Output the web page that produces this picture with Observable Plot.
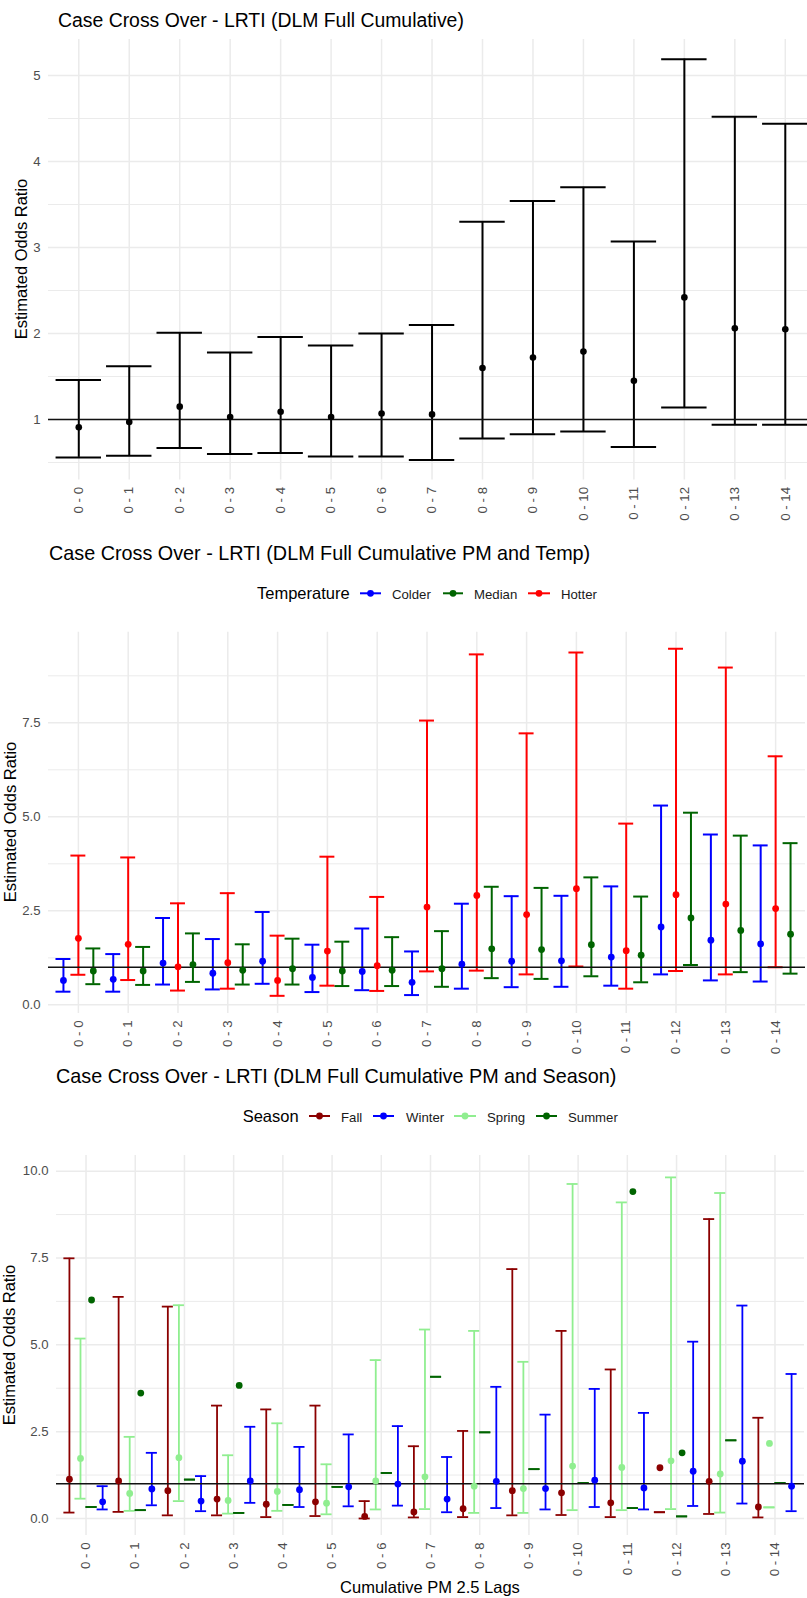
<!DOCTYPE html>
<html><head><meta charset="utf-8">
<script src="https://cdn.jsdelivr.net/npm/d3@7"></script>
<script src="https://cdn.jsdelivr.net/npm/@observablehq/plot@0.6"></script>
<style>
body{margin:0;background:#fff;font-family:"Liberation Sans",Arial,Helvetica,sans-serif;}
#wrap{position:relative;width:807px;height:1598px;overflow:hidden;background:#fff;}
</style></head>
<body><div id="wrap"></div>
<script>
// ---------- DATA ----------
const lagLabels = ["0 - 0","0 - 1","0 - 2","0 - 3","0 - 4","0 - 5","0 - 6","0 - 7","0 - 8","0 - 9","0 - 10","0 - 11","0 - 12","0 - 13","0 - 14"];

// Panel 1: DLM Full Cumulative
const fullEst = [0.91,0.97,1.15,1.03,1.09,1.03,1.07,1.06,1.60,1.72,1.79,1.45,2.42,2.06,2.05];
const fullLo  = [0.56,0.58,0.67,0.60,0.61,0.57,0.57,0.53,0.78,0.83,0.86,0.68,1.14,0.94,0.94];
const fullHi  = [1.46,1.62,2.01,1.78,1.96,1.86,2.00,2.10,3.30,3.54,3.70,3.07,5.19,4.52,4.44];

// Panel 2: PM and Temperature
const tempLevels = ["Colder","Median","Hotter"];
const tempColors = ["blue","darkgreen","red"];
const colderEst = [0.65,0.68,1.11,0.84,1.16,0.73,0.89,0.60,1.08,1.16,1.17,1.27,2.07,1.72,1.62];
const colderLo  = [0.35,0.35,0.54,0.41,0.56,0.34,0.39,0.26,0.43,0.47,0.48,0.51,0.81,0.65,0.62];
const colderHi  = [1.22,1.35,2.31,1.75,2.47,1.60,2.03,1.42,2.69,2.89,2.90,3.15,5.30,4.53,4.24];
const medianEst = [0.90,0.90,1.07,0.92,0.96,0.90,0.92,0.96,1.49,1.47,1.60,1.32,2.31,1.98,1.88];
const medianLo  = [0.55,0.53,0.61,0.54,0.54,0.50,0.50,0.48,0.71,0.69,0.76,0.60,1.06,0.87,0.83];
const medianHi  = [1.50,1.54,1.90,1.61,1.76,1.68,1.80,1.96,3.14,3.11,3.39,2.88,5.11,4.50,4.30];
const hotterEst = [1.77,1.61,1.01,1.12,0.65,1.43,1.04,2.60,2.91,2.40,3.09,1.44,2.93,2.68,2.56];
const hotterLo  = [0.80,0.66,0.38,0.43,0.24,0.51,0.37,0.89,0.91,0.81,1.02,0.43,0.90,0.81,1.00];
const hotterHi  = [3.97,3.92,2.70,2.97,1.84,3.94,2.87,7.56,9.32,7.22,9.37,4.82,9.47,8.97,6.61];

// Panel 3: PM and Season
const seasonLevels = ["Fall","Winter","Spring","Summer"];
const seasonColors = ["#8B0000","blue","#90EE90","#006400"];
const fallEst = [1.13,1.08,0.80,0.56,0.41,0.48,0.06,0.19,0.28,0.80,0.74,0.45,1.46,1.07,0.33];
const fallLo  = [0.17,0.19,0.09,0.09,0.04,0.07,0.00,0.03,0.04,0.09,0.10,0.04,0.18,0.13,0.03];
const fallHi  = [7.49,6.38,6.10,3.25,3.14,3.25,0.50,2.08,2.52,7.18,5.40,4.29,0.18,8.62,2.90];
const winterEst = [0.48,0.85,0.50,1.08,0.83,0.91,0.99,0.56,1.07,0.86,1.10,0.88,1.36,1.65,0.93];
const winterLo  = [0.26,0.38,0.21,0.45,0.33,0.35,0.37,0.18,0.30,0.26,0.33,0.26,0.36,0.43,0.21];
const winterHi  = [0.93,1.89,1.22,2.64,2.06,2.42,2.66,1.77,3.79,2.99,3.73,3.04,5.09,6.13,4.16];
const springEst = [1.73,0.72,1.75,0.52,0.78,0.44,1.08,1.20,0.93,0.86,1.51,1.47,1.66,1.28,2.16];
const springLo  = [0.57,0.22,0.50,0.14,0.22,0.12,0.26,0.27,0.16,0.16,0.24,0.24,0.27,0.17,0.32];
const springHi  = [5.18,2.35,6.14,1.82,2.74,1.56,4.56,5.44,5.40,4.51,9.63,9.10,9.82,9.37,0.32];
const summerEst = [6.29,3.61,null,3.83,null,null,null,null,null,null,null,9.41,1.89,null,null];
const summerLo  = [0.33,0.24,1.12,0.16,0.39,0.91,1.31,4.08,2.48,1.42,1.02,0.30,0.06,2.25,1.02];
const summerHi  = [0.33,0.24,1.12,0.16,0.39,0.91,1.31,4.08,2.48,1.42,1.02,0.30,0.06,2.25,1.02];

// ---------- HELPERS ----------
const FONT = '"Liberation Sans", Arial, Helvetica, sans-serif';
const GRID = "#ebebeb";
const idx = lagLabels.map((d, i) => i);
const wrap = document.getElementById("wrap");

function rowsFor(groups, dodgeOrder, width) {
  const n = dodgeOrder.length;
  const step = width / n;
  const rows = [];
  groups.forEach(g => {
    const k = dodgeOrder.indexOf(g.name);
    const off = (k - (n - 1) / 2) * step;
    g.est.forEach((e, i) => rows.push({group: g.name, i, x: i + off, est: e, lo: g.lo[i], hi: g.hi[i], half: step / 2}));
  });
  return rows;
}

function basePlot({top, height, mt, mb, ml, mr, xDomain, yDomain, yTicks, yMinor, yFormat, color, marks}) {
  const svg = Plot.plot({
    width: 807, height,
    marginTop: mt, marginBottom: mb, marginLeft: ml, marginRight: mr,
    style: {fontFamily: FONT, color: "#4d4d4d", background: "transparent", overflow: "visible"},
    x: {domain: xDomain},
    y: {domain: yDomain},
    color,
    marks: [
      Plot.ruleY(yMinor, {stroke: GRID, strokeWidth: 1}),
      Plot.ruleY(yTicks, {stroke: GRID, strokeWidth: 1.5}),
      Plot.ruleX(idx, {stroke: GRID, strokeWidth: 1.5}),
      Plot.axisY(yTicks, {tickSize: 0, tickPadding: 8, tickFormat: yFormat, fontSize: 13.2, fill: "#4d4d4d", label: null}),
      Plot.axisX(idx, {tickSize: 0, tickPadding: 7, tickFormat: i => lagLabels[i], tickRotate: -90, textAnchor: "end", lineAnchor: "middle", fontSize: 13.2, fill: "#4d4d4d", label: null}),
      ...marks
    ]
  });
  svg.style.position = "absolute";
  svg.style.left = "0px";
  svg.style.top = top + "px";
  wrap.appendChild(svg);
}

function errMarks(rows, strokeOpt, sw, r) {
  const withEst = rows.filter(d => d.est != null);
  return [
    Plot.ruleX(rows, {x: "x", y1: "lo", y2: "hi", stroke: strokeOpt, strokeWidth: sw}),
    Plot.ruleY(rows, {y: "lo", x1: d => d.x - d.half, x2: d => d.x + d.half, stroke: strokeOpt, strokeWidth: sw}),
    Plot.ruleY(rows, {y: "hi", x1: d => d.x - d.half, x2: d => d.x + d.half, stroke: strokeOpt, strokeWidth: sw}),
    Plot.ruleY([1], {stroke: "#111", strokeWidth: 1.6}),
    Plot.dot(withEst, {x: "x", y: "est", r, fill: strokeOpt, stroke: "none"})
  ];
}

// ---------- PANEL 1 ----------
const rows1 = rowsFor([{name: "All", est: fullEst, lo: fullLo, hi: fullHi}], ["All"], 0.9);
basePlot({
  top: 0, height: 520, mt: 38.9, mb: 40.5, ml: 48, mr: 0,
  xDomain: [-0.6, 14.44], yDomain: [0.297, 5.42],
  yTicks: [1, 2, 3, 4, 5], yMinor: [0.5, 1.5, 2.5, 3.5, 4.5], yFormat: d3.format("d"),
  marks: errMarks(rows1, "black", 2, 3.3)
});

// ---------- PANEL 2 ----------
const rows2 = rowsFor([
  {name: "Colder", est: colderEst, lo: colderLo, hi: colderHi},
  {name: "Median", est: medianEst, lo: medianLo, hi: medianHi},
  {name: "Hotter", est: hotterEst, lo: hotterLo, hi: hotterHi}
], ["Colder", "Hotter", "Median"], 0.9);
basePlot({
  top: 610, height: 450, mt: 21.7, mb: 47, ml: 48, mr: 2,
  xDomain: [-0.6, 14.6], yDomain: [-0.23, 9.91],
  yTicks: [0, 2.5, 5, 7.5], yMinor: [1.25, 3.75, 6.25, 8.75], yFormat: d3.format(".1f"),
  color: {domain: tempLevels, range: tempColors},
  marks: errMarks(rows2, "group", 2, 3.4)
});

// ---------- PANEL 3 ----------
const rows3 = rowsFor([
  {name: "Fall", est: fallEst, lo: fallLo, hi: fallHi},
  {name: "Winter", est: winterEst, lo: winterLo, hi: winterHi},
  {name: "Spring", est: springEst, lo: springLo, hi: springHi},
  {name: "Summer", est: summerEst, lo: summerLo, hi: summerHi}
], ["Fall", "Spring", "Summer", "Winter"], 0.9);
basePlot({
  top: 1130, height: 450, mt: 25, mb: 45, ml: 56, mr: 3,
  xDomain: [-0.6, 14.6], yDomain: [-0.49, 10.45],
  yTicks: [0, 2.5, 5, 7.5, 10], yMinor: [1.25, 3.75, 6.25, 8.75], yFormat: d3.format(".1f"),
  color: {domain: seasonLevels, range: seasonColors},
  marks: errMarks(rows3, "group", 1.8, 3.4)
});

// ---------- TEXT OVERLAY: titles, axis titles, legends ----------
const ov = d3.select(wrap).append("svg")
  .attr("width", 807).attr("height", 1598)
  .style("position", "absolute").style("left", "0px").style("top", "0px")
  .style("font-family", FONT);

function txt(x, y, s, size, fill = "#000", anchor = "start", rot = 0) {
  const t = ov.append("text").attr("font-size", size).attr("fill", fill).attr("text-anchor", anchor).text(s);
  if (rot) t.attr("transform", `translate(${x},${y}) rotate(${rot})`);
  else t.attr("x", x).attr("y", y);
  return t;
}

txt(58, 26.7, "Case Cross Over - LRTI (DLM Full Cumulative)", 19.4);
txt(49, 560, "Case Cross Over - LRTI (DLM Full Cumulative PM and Temp)", 19.8);
txt(56, 1082.7, "Case Cross Over - LRTI (DLM Full Cumulative PM and Season)", 19.8);

txt(26.7, 259, "Estimated Odds Ratio", 16.5, "#000", "middle", -90);
txt(16, 822, "Estimated Odds Ratio", 16.5, "#000", "middle", -90);
txt(15, 1345, "Estimated Odds Ratio", 16.5, "#000", "middle", -90);
txt(430, 1593, "Cumulative PM 2.5 Lags", 16.5, "#000", "middle");

function legend(title, tx, baseline, cy, items) {
  txt(tx, baseline, title, 16.5);
  items.forEach(([x1, x2, col, label, lx]) => {
    ov.append("line").attr("x1", x1).attr("x2", x2).attr("y1", cy).attr("y2", cy).attr("stroke", col).attr("stroke-width", 2);
    ov.append("circle").attr("cx", (x1 + x2) / 2).attr("cy", cy).attr("r", 3.4).attr("fill", col);
    txt(lx, baseline, label, 13.2, "#1a1a1a");
  });
}
legend("Temperature", 257, 598.5, 593.3, [
  [360, 381, tempColors[0], tempLevels[0], 392],
  [443, 463, tempColors[1], tempLevels[1], 474],
  [528, 550, tempColors[2], tempLevels[2], 561]
]);
legend("Season", 242.7, 1121.5, 1116, [
  [309, 330, seasonColors[0], seasonLevels[0], 341],
  [373, 394, seasonColors[1], seasonLevels[1], 406],
  [454, 476, seasonColors[2], seasonLevels[2], 487],
  [536, 557, seasonColors[3], seasonLevels[3], 568]
]);
</script>
</body></html>
